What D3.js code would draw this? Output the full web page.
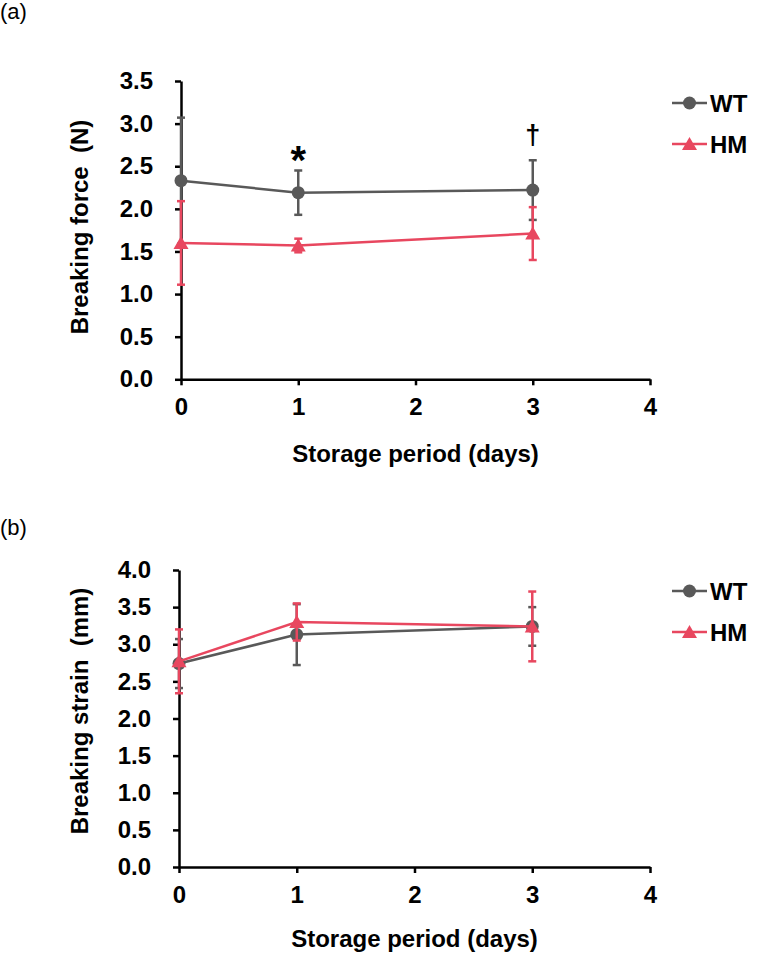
<!DOCTYPE html>
<html><head><meta charset="utf-8">
<script src="https://cdn.jsdelivr.net/npm/d3@7"></script>
<style>body{margin:0;background:#fff}text{font-family:"Liberation Sans",Arial,sans-serif}</style>
</head><body>
<script>
// ---- data ----
const days = [0, 1, 3];
const xTicks = [0, 1, 2, 3, 4];
const forceTicks = [0, 0.5, 1.0, 1.5, 2.0, 2.5, 3.0, 3.5];
const strainTicks = [0, 0.5, 1.0, 1.5, 2.0, 2.5, 3.0, 3.5, 4.0];
const seriesNames = ["WT", "HM"];
const forceWT = [2.33, 2.19, 2.22];
const forceWTerr = [0.74, 0.26, 0.35];
const forceHM = [1.60, 1.57, 1.71];
const forceHMerr = [0.49, 0.08, 0.31];
const strainWT = [2.74, 3.13, 3.24];
const strainWTerr = [0.33, 0.41, 0.26];
const strainHM = [2.77, 3.30, 3.24];
const strainHMerr = [0.43, 0.25, 0.47];
const forceMarks = [{day: 1, text: "*"}, {day: 3, text: "†"}];

const colors = {WT: "#595959", HM: "#E8475F"};

const svg = d3.select("body").append("svg").attr("width", 757).attr("height", 953);

function panel(cfg) {
  const g = svg.append("g");
  const x = d3.scaleLinear().domain([0, 4]).range([cfg.x0, 650]);
  const y = d3.scaleLinear().domain([0, cfg.ymax]).range([cfg.yb, cfg.yt]);

  // panel label
  svg.append("text").attr("x", 0).attr("y", cfg.labelY).attr("font-size", 22).text(cfg.label);

  // axes
  const xa = g.append("g").attr("transform", `translate(0,${cfg.yb})`)
    .call(d3.axisBottom(x).tickValues(xTicks).tickFormat(d3.format("d")).tickSize(6).tickPadding(13).tickSizeOuter(0));
  const ya = g.append("g").attr("transform", `translate(${cfg.x0},0)`)
    .call(d3.axisLeft(y).tickValues(cfg.ticks).tickFormat(d3.format(".1f")).tickSize(6).tickPadding(22).tickSizeOuter(0));
  [xa, ya].forEach(a => {
    a.select(".domain").attr("stroke", "#000").attr("stroke-width", 2.5);
    a.selectAll(".tick line").attr("stroke", "#000").attr("stroke-width", 2.5);
    a.selectAll(".tick text").attr("font-size", 24).attr("font-weight", "bold").attr("fill", "#000")
      .attr("font-family", '"Liberation Sans",Arial,sans-serif');
  });

  // titles
  svg.append("text").attr("x", (cfg.x0 + 650) / 2).attr("y", cfg.yb + cfg.xtOff)
    .attr("text-anchor", "middle").attr("font-size", 24).attr("font-weight", "bold")
    .text("Storage period (days)");
  svg.append("text").attr("transform", `translate(88,${cfg.ytCenter}) rotate(-90)`)
    .attr("text-anchor", "middle").attr("font-size", 24).attr("font-weight", "bold")
    .attr("xml:space", "preserve").style("white-space", "pre")
    .text(cfg.ytitle);

  // series
  cfg.series.forEach(s => {
    const col = colors[s.name];
    const pts = days.map((d, i) => ({d, v: s.vals[i], e: s.errs[i]}));
    const sg = g.append("g");
    // error bars
    pts.forEach(p => {
      const cx = x(p.d), top = y(p.v + p.e), bot = y(p.v - p.e);
      sg.append("line").attr("x1", cx).attr("x2", cx).attr("y1", top).attr("y2", bot)
        .attr("stroke", col).attr("stroke-width", 2.5);
      [top, bot].forEach(yy => sg.append("line").attr("x1", cx - 4).attr("x2", cx + 4)
        .attr("y1", yy).attr("y2", yy).attr("stroke", col).attr("stroke-width", 2.5));
    });
    // line
    sg.append("path").datum(pts)
      .attr("d", d3.line().x(p => x(p.d)).y(p => y(p.v)))
      .attr("fill", "none").attr("stroke", col).attr("stroke-width", 2.5);
    // markers
    pts.forEach(p => drawMarker(sg, s.name, x(p.d), y(p.v), col));
  });

  // significance marks
  if (cfg.marks) {
    cfg.marks.forEach(m => {
      if (m.text === "*") {
        svg.append("text").attr("x", x(m.day)).attr("y", cfg.yt + 93).attr("text-anchor", "middle")
          .attr("font-size", 40).attr("font-weight", "bold").text(m.text);
      } else {
        svg.append("text").attr("x", x(m.day)).attr("y", cfg.yt + 63).attr("text-anchor", "middle")
          .attr("font-size", 27).attr("font-weight", "bold").text(m.text);
      }
    });
  }

  // legend
  seriesNames.forEach((n, i) => {
    const ly = cfg.legY[i];
    const col = colors[n];
    svg.append("line").attr("x1", 672).attr("x2", 707).attr("y1", ly).attr("y2", ly)
      .attr("stroke", col).attr("stroke-width", 2.5);
    drawMarker(svg, n, 689.5, ly, col);
    svg.append("text").attr("x", 710).attr("y", ly + 8.5).attr("font-size", 24)
      .attr("font-weight", "bold").text(n);
  });
}

function drawMarker(sel, name, cx, cy, col) {
  if (name === "WT") {
    sel.append("circle").attr("cx", cx).attr("cy", cy).attr("r", 6.5).attr("fill", col);
  } else {
    sel.append("path").attr("d", `M${cx},${cy - 7}L${cx + 7.5},${cy + 6}L${cx - 7.5},${cy + 6}Z`).attr("fill", col);
  }
}

panel({
  label: "(a)", labelY: 19, x0: 181, yb: 379.3, yt: 81, ymax: 3.5, ticks: forceTicks,
  xtOff: 83, ytCenter: 227, ytitle: "Breaking force  (N)", legY: [103, 144],
  series: [{name: "WT", vals: forceWT, errs: forceWTerr}, {name: "HM", vals: forceHM, errs: forceHMerr}],
  marks: forceMarks
});
panel({
  label: "(b)", labelY: 535, x0: 179, yb: 867, yt: 570, ymax: 4.0, ticks: strainTicks,
  xtOff: 80, ytCenter: 711, ytitle: "Breaking strain  (mm)", legY: [591, 632],
  series: [{name: "WT", vals: strainWT, errs: strainWTerr}, {name: "HM", vals: strainHM, errs: strainHMerr}]
});
</script>
</body></html>
